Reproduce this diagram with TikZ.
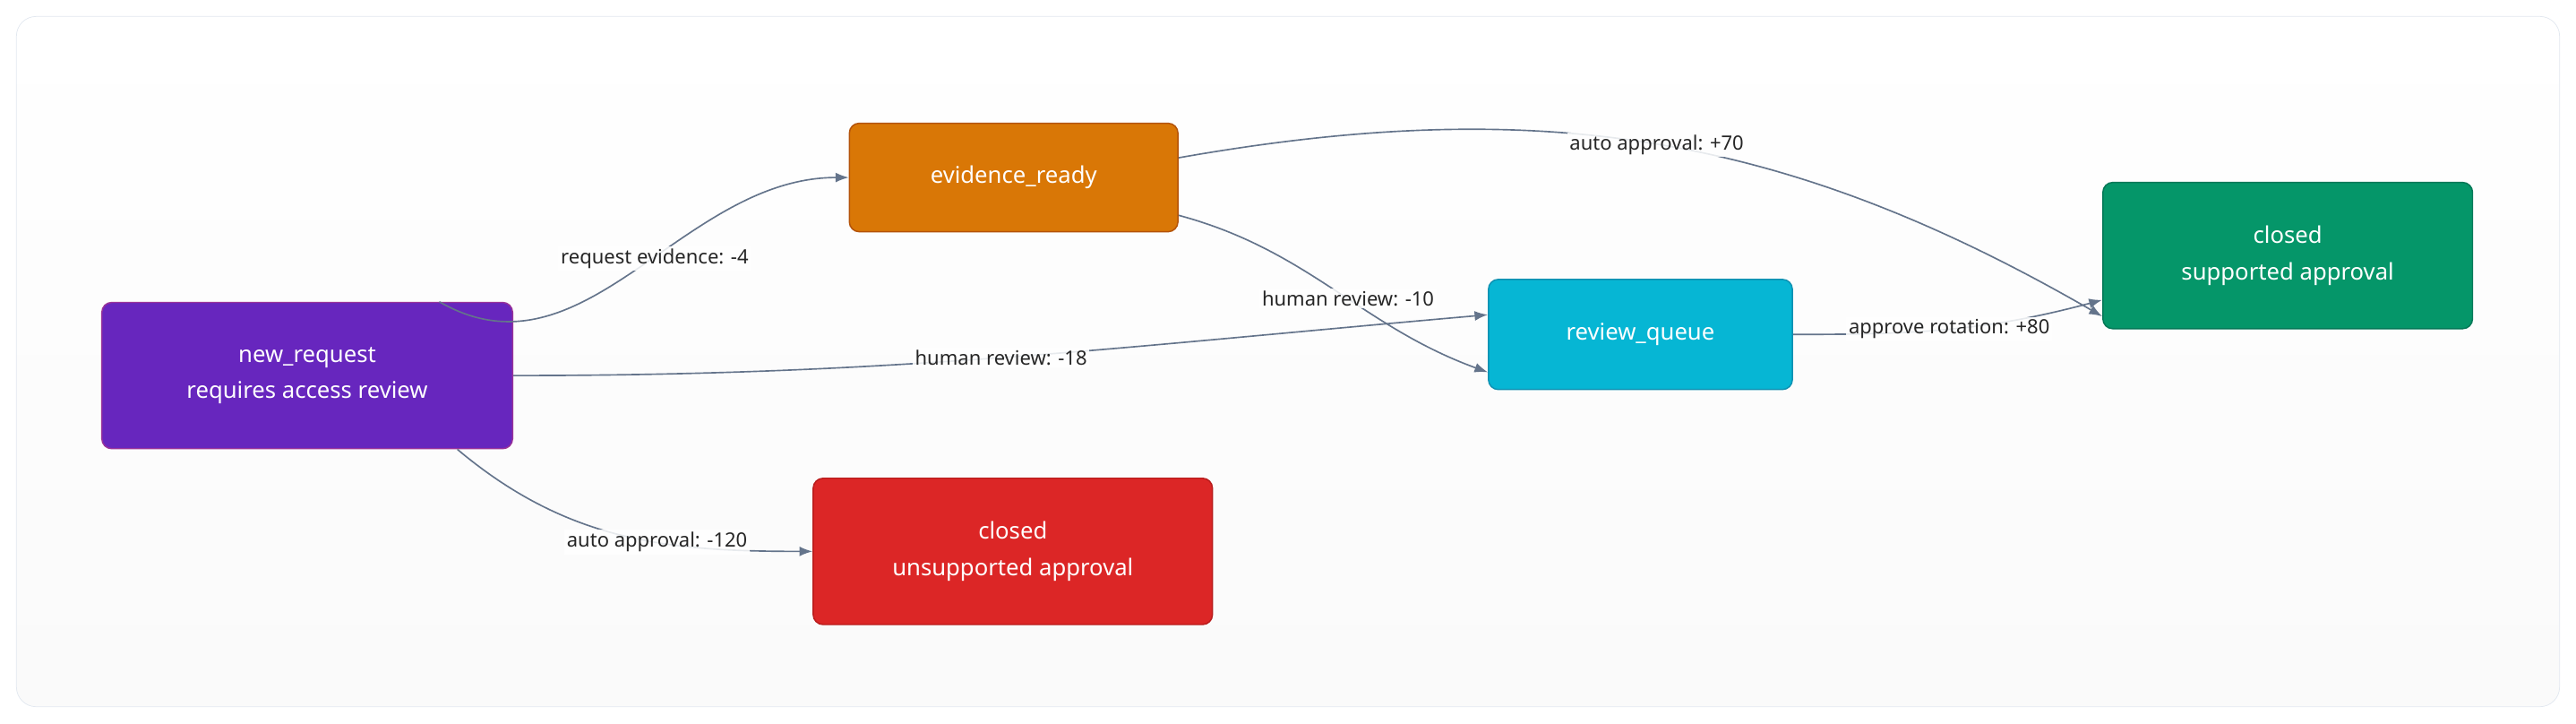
\documentclass[tikz,border=0pt]{standalone}
\usepackage{fontspec}
\setmainfont{Noto Sans}
\usetikzlibrary{positioning}
\usetikzlibrary{arrows.meta}
\definecolor{edgegray}{HTML}{64748B}
\definecolor{framegray}{HTML}{E2E8F0}
\tikzset{x=1pt, y=-1pt,
  every node/.style={align=center},
  state/.style={ % Sets the properties for each state
    draw, rounded corners=6pt, text=white, line width=0.8pt,
    font=\fontsize{14}{22}\selectfont},
  every edge/.style={ % Sets the properties for each transition
    draw=edgegray, -{Latex[length=8pt,width=6pt]}, line width=0.9pt},
  lbl/.style={fill=white, fill opacity=0.85, text opacity=1, inner sep=1.5pt,
    font=\fontsize{12}{14}\selectfont, text=black!85}}

\begin{document}
\begin{tikzpicture}
  \useasboundingbox (0,0) rectangle (1568,440);
  \draw[framegray, top color=white, bottom color=gray!4, rounded corners=12pt]
    (10,10) rectangle (1558,430);

  \node [state, fill=violet!60!blue!85, draw=violet!80, minimum width=250pt, minimum height=89pt] (qnew) at (187,228.5) {new\_request\\requires access review};
  \node [state, fill={rgb,255:red,217;green,119;blue,6}, draw={rgb,255:red,180;green,83;blue,9}, minimum width=200pt, minimum height=66pt] (qevid) at (617,108) {evidence\_ready};
  \node [state, fill={rgb,255:red,220;green,38;blue,38}, draw={rgb,255:red,185;green,28;blue,28}, minimum width=243pt, minimum height=89pt] (qunsup) at (616.5,335.5) {closed\\unsupported approval};
  \node [state, fill={rgb,255:red,6;green,182;blue,212}, draw={rgb,255:red,14;green,145;blue,178}, minimum width=185pt, minimum height=67pt] (qqueue) at (998.5,203.5) {review\_queue};
  \node [state, fill={rgb,255:red,5;green,150;blue,105}, draw={rgb,255:red,4;green,120;blue,87}, minimum width=225pt, minimum height=89pt] (qsup) at (1392.5,155.5) {closed\\supported approval};

  \draw (qnew.north east) ++(-45,0) edge [out=-30, in=180] node[lbl, pos=0.55] {request evidence: -4} (qevid.west);
  \draw (qnew.east) edge [out=0, in=185] node[lbl, pos=0.5] {human review: -18} ([yshift=12pt]qqueue.west);
  \draw (qnew.south east) ++(-34,0) edge [out=-40, in=180] node[lbl, pos=0.6] {auto approval: -120} (qunsup.west);
  \draw ([yshift=12pt]qevid.east) edge [out=10, in=150] node[lbl, pos=0.5] {auto approval: +70} ([xshift=0pt,yshift=-37pt]qsup.west);
  \draw ([yshift=-23pt]qevid.east) edge [out=-15, in=160] node[lbl, pos=0.55] {human review: -10} ([yshift=-23pt]qqueue.west);
  \draw (qqueue.east) edge [out=0, in=195] node[lbl, pos=0.5] {approve rotation: +80} ([yshift=-27pt]qsup.west);
\end{tikzpicture}
\end{document}
